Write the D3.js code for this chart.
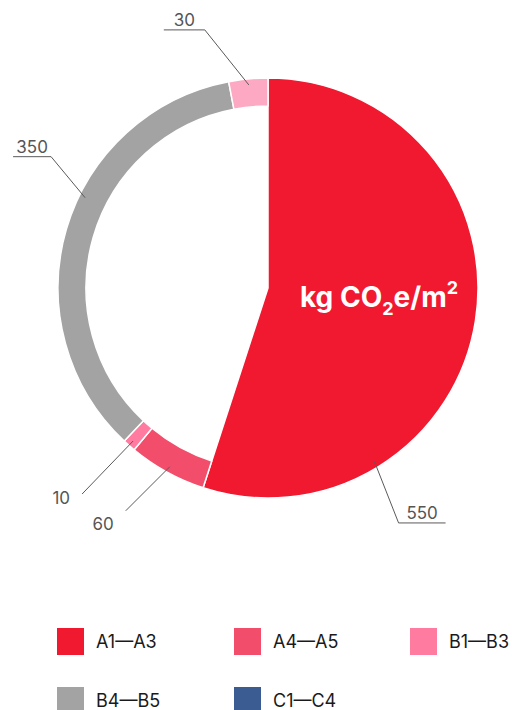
<!DOCTYPE html>
<html>
<head>
<meta charset="utf-8">
<script src="https://cdn.jsdelivr.net/npm/d3@7"></script>
<style>
  html, body { margin: 0; padding: 0; background: #fff; }
  svg { display: block; }
  text { font-family: Inter, "Liberation Sans", Arial, sans-serif; }
</style>
</head>
<body>
<svg id="chart" width="512" height="710"></svg>
<script>
// Embodied carbon split by life-cycle stage (kg CO2e/m2)
const stages = ["A1—A3", "A4—A5", "B1—B3", "B4—B5", "D"];
const values = [550, 60, 10, 350, 30];
const sliceColors = ["#F1192F", "#F24E6C", "#FF7BA0", "#A3A3A3", "#FDA9C3"];

const legendStages = ["A1—A3", "A4—A5", "B1—B3", "B4—B5", "C1—C4"];
const legendColors = ["#F1192F", "#F24E6C", "#FF7BA0", "#A3A3A3", "#3A5C93"];

// leader-line layout per slice: where on the slice the line starts (fraction of its sweep),
// elbow offset from that point, horizontal tail length and text offset from the line end
const labelFrac = [0.75, 0.5, 0.5, 0.58, 0.5];
const labelElbow = [[24, 61], [-44, 44], [-51, 53], [-34, -41], [-44, -55]];
const labelTail = [47, 0, 0, -38, -41];

const svg = d3.select("#chart");
const cx = 268, cy = 288, R = 210, rInner = 182;

const pie = d3.pie().sort(null).value(d => d.value).startAngle(0).endAngle(2 * Math.PI);
const data = stages.map((s, i) => ({ stage: s, value: values[i], color: sliceColors[i], i }));
const arcs = pie(data);

const g = svg.append("g").attr("transform", `translate(${cx},${cy})`);

// the first stage is drawn as a full wedge, the rest as a ring
const wedge = d3.arc().innerRadius(0).outerRadius(R);
const ring = d3.arc().innerRadius(rInner).outerRadius(R);

g.selectAll("path.slice")
  .data(arcs)
  .join("path")
  .attr("class", "slice")
  .attr("d", d => (d.data.i === 0 ? wedge(d) : ring(d)))
  .attr("fill", d => d.data.color)
  .attr("stroke", "#fff")
  .attr("stroke-width", 1.5)
  .attr("stroke-linejoin", "round");

// value labels with leader lines
const labelR = 204;
arcs.forEach(d => {
  const i = d.data.i;
  const a = d.startAngle + (d.endAngle - d.startAngle) * labelFrac[i];
  const x0 = Math.sin(a) * labelR, y0 = -Math.cos(a) * labelR;
  const x1 = x0 + labelElbow[i][0], y1 = y0 + labelElbow[i][1];
  const x2 = x1 + labelTail[i];
  const pts = [[x0, y0], [x1, y1]];
  if (labelTail[i] !== 0) pts.push([x2, y1]);
  g.append("path")
    .attr("d", d3.line()(pts))
    .attr("fill", "none")
    .attr("stroke", "#5a5a5a")
    .attr("stroke-width", 1);

  const t = g.append("text")
    .attr("font-size", 17)
    .attr("fill", "#555")
    .text(d.data.value);
  if (labelTail[i] !== 0) {
    t.attr("x", (x1 + x2) / 2).attr("y", y1 - 4).attr("text-anchor", "middle");
  } else {
    t.attr("x", x1 - 12).attr("y", y1 + (i === 1 ? 19 : 10)).attr("text-anchor", "end");
  }
});

// unit label on the large wedge
const unit = svg.append("text")
  .attr("x", 300)
  .attr("y", 307)
  .attr("font-weight", 700)
  .attr("font-size", 28)
  .attr("fill", "#fff");
unit.append("tspan").text("kg CO");
unit.append("tspan").attr("font-size", 18).attr("dy", 8).text("2");
unit.append("tspan").attr("dy", -8).text("e/m");
unit.append("tspan").attr("font-size", 18).attr("dy", -13).text("2");

// legend
const legendX = [57, 234, 410];
const legendY = [628, 687];
const legend = svg.append("g");
legendStages.forEach((s, i) => {
  const col = i % 3, row = Math.floor(i / 3);
  const lg = legend.append("g").attr("transform", `translate(${legendX[col]},${legendY[row]})`);
  lg.append("rect").attr("width", 27).attr("height", 27).attr("fill", legendColors[i]);
  lg.append("text")
    .attr("x", 39)
    .attr("y", 20)
    .attr("font-size", 18)
    .attr("fill", "#1a1a1a")
    .text(s);
});
</script>
</body>
</html>
